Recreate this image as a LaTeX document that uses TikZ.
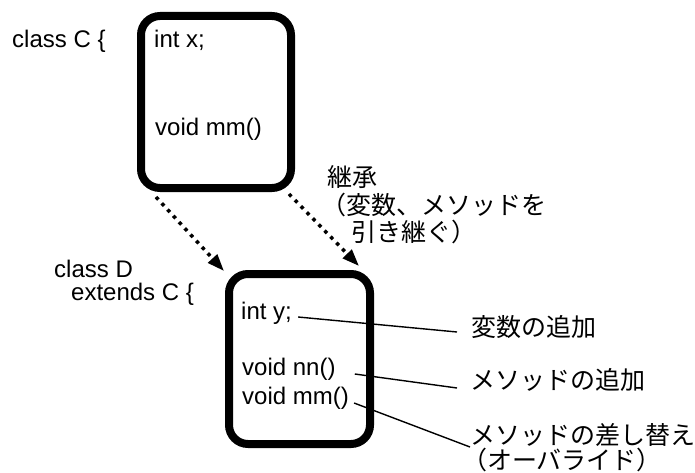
\documentclass[tikz,border=0pt]{standalone}
\usepackage{fontspec}
\setmainfont{Liberation Sans}
\newfontfamily\jp{Noto Sans CJK JP}
\usetikzlibrary{arrows.meta}

\begin{document}
\begin{tikzpicture}[x=1pt,y=-1pt,
  cls/.style={draw, line width=8pt, rounded corners=19pt, inner sep=0pt},
  code/.style={anchor=base west, inner sep=0pt, font=\fontsize{24}{28}\selectfont},
  note/.style={anchor=base west, inner sep=0pt, font=\jp\fontsize{25}{30}\selectfont},
  inherit/.style={line width=3.5pt, dash pattern=on 3.5pt off 5pt,
    -{Triangle[length=17pt,width=12pt]}},
  callout/.style={line width=1.4pt}]
\useasboundingbox (0,0) rectangle (695,473);

% class boxes
\node[cls, minimum width=150pt, minimum height=172pt] (C) at (216,102) {};
\node[cls, minimum width=141pt, minimum height=170pt] (D) at (299.5,359) {};

% declarations
\node[code] (cC)  at (12,48)   {class C \{};
\node[code] (cD)  at (54,277)  {class D};
\node[code] (ext) at (71,300)  {extends C \{};

% members
\node[code] (x)   at (154,48)  {int x;};
\node[code] (mmC) at (155,136) {void mm()};
\node[code] (y)   at (241,319) {int y;};
\node[code] (nn)  at (242,375) {void nn()};
\node[code] (mmD) at (242,404) {void mm()};

% inheritance arrows
\draw[inherit] ([shift={(19,5)}]C.south west) -- ([shift={(-1,1)}]D.north west);
\draw[inherit] ([shift={(-6,2)}]C.south east) -- ([shift={(-15,-4)}]D.north east);

% notes
\node[note] (inh1) at (327,186) {継承};
\node[note] (inh2) at (321,214) {（変数、メソッドを};
\node[note] (inh3) at (351,241) {引き継ぐ）};
\node[note] (addv) at (471,336) {変数の追加};
\node[note] (addm) at (470,389) {メソッドの追加};
\node[note] (ovr1) at (470,444) {メソッドの差し替え};
\node[note] (ovr2) at (462,469) {（オーバライド）};

% callout lines
\draw[callout] ([shift={(6,-2)}]y.base east) -- ([shift={(-14,-4)}]addv.base west);
\draw[callout] ([shift={(19,-1)}]nn.base east) -- ([shift={(-13,-1)}]addm.base west);
\draw[callout] ([shift={(5,-1)}]mmD.base east) -- ([shift={(0,3)}]ovr1.base west);
\end{tikzpicture}
\end{document}
